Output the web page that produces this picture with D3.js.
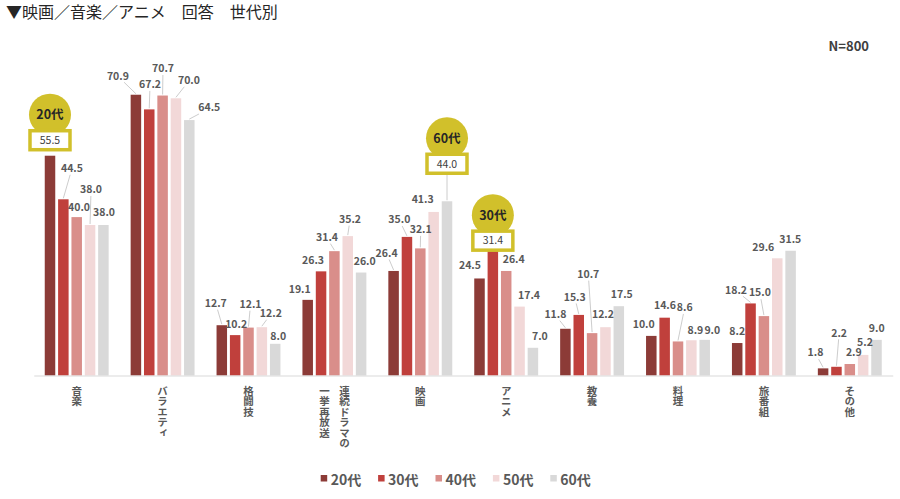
<!DOCTYPE html>
<html>
<head>
<meta charset="utf-8">
<script src="https://cdn.jsdelivr.net/npm/d3@7"></script>
<style>
  body { margin: 0; background: #fff; }
  text { font-family: "Noto Sans CJK JP", "Noto Sans", sans-serif; }
</style>
</head>
<body>
<svg id="chart" width="900" height="499"></svg>
<script>

// data
const categories = ['音楽', 'バラエティ', '格闘技', '連続ドラマの一挙再放送', '映画', 'アニメ', '教養', '料理', '旅番組', 'その他']
const categoryColumns = [['音楽'], ['バラエティ'], ['格闘技'], ['連続ドラマの', '一挙再放送'], ['映画'], ['アニメ'], ['教養'], ['料理'], ['旅番組'], ['その他']]
const generations = ['20代', '30代', '40代', '50代', '60代']
const values20 = [55.5, 70.9, 12.7, 19.1, 26.4, 24.5, 11.8, 10.0, 8.2, 1.8]
const values30 = [44.5, 67.2, 10.2, 26.3, 35.0, 31.4, 15.3, 14.6, 18.2, 2.2]
const values40 = [40.0, 70.7, 12.1, 31.4, 32.1, 26.4, 10.7, 8.6, 15.0, 2.9]
const values50 = [38.0, 70.0, 12.2, 35.2, 41.3, 17.4, 12.2, 8.9, 29.6, 5.2]
const values60 = [38.0, 64.5, 8.0, 26.0, 44.0, 7.0, 17.5, 9.0, 31.5, 9.0]
const seriesValues = [values20, values30, values40, values50, values60]
const colors = ['#8C3B37', '#C0403C', '#D98E8A', '#F2D8D8', '#D9D9D9']

// highlighted bars (generation, category)
const highlights = [['20代', '音楽'], ['60代', '映画'], ['30代', 'アニメ']]

// label nudges [dx, dy, leader] per generation, per category (null = highlighted)
const nudge20 = [null, [-18, -19, 1], [-6, -22, 1], [-8, -11, 0], [-7, -18, 1], [-9.5, -13.5, 0], [-10, -14.6, 1], [-7.6, -11.7, 0], [0, -11.7, 0], [-7.6, -15.7, 1]]
const nudge30 = [[8.6, -31, 1], [0.8, -25, 1], [1, -11, 0], [-8, -11, 0], [-7.6, -17.4, 1], null, [-4, -18, 1], [0.3, -12.7, 0], [-14.5, -13.7, 1], [2.7, -34, 1]]
const nudge40 = [[2.3, -10, 0], [0.4, -27, 1], [2, -23.4, 1], [-7.4, -14, 1], [0.4, -19, 1], [7.5, -11.5, 0], [-3.8, -59, 1], [6.7, -34, 1], [-4, -23.4, 1], [4, -11.3, 0]]
const nudge50 = [[1, -35.5, 1], [13, -18, 1], [9, -14, 1], [2.3, -17, 1], [-11, -13, 0], [9.5, -11.6, 0], [-2.5, -13, 0], [4, -10, 0], [-14, -11.5, 0], [1.8, -12.2, 0]]
const nudge60 = [[0.6, -12.5, 0], [20, -12.6, 1], [3, -8, 0], [3.6, -11, 0], null, [7, -11.6, 0], [3, -12, 0], [7.6, -9.7, 0], [-0.3, -11.5, 0], [0.2, -11.2, 0]]
const nudges = [nudge20, nudge30, nudge40, nudge50, nudge60]
const calloutGap = [6, 28, 1]

const svg = d3.select('#chart')
const gold = '#D1C02B'
const labelColor = '#595959'

const x0 = d3.scaleBand()
	.domain(categories)
	.range([33.75, 892.75])
	.paddingInner(0.256)
	.paddingOuter(0.128)

const x1 = d3.scaleBand()
	.domain(generations)
	.range([0, x0.bandwidth()])
	.paddingInner(0.213)

const y = d3.scaleLinear()
	.domain([0, 80])
	.range([375.5, 58.7])

const cx = (gi, ci) => x0(categories[ci]) + x1(generations[gi]) + x1.bandwidth() / 2

// title
svg.append('text')
	.attr('x', 6).attr('y', 18)
	.attr('font-size', 16).attr('fill', '#262626')
	.text('▼映画／音楽／アニメ　回答　世代別')

svg.append('text')
	.attr('x', 869).attr('y', 51)
	.attr('text-anchor', 'end')
	.attr('font-size', 13).attr('font-weight', 'bold').attr('fill', '#404040')
	.attr('font-family', 'Arial, "Liberation Sans", sans-serif')
	.text('N=800')

// bars
const groups = svg.append('g').selectAll('g')
	.data(generations)
	.enter().append('g')
	.attr('fill', (d, i) => colors[i])

groups.selectAll('rect')
	.data((g, gi) => categories.map((c, ci) => ({ gi, ci, v: seriesValues[gi][ci] })))
	.enter().append('rect')
	.attr('x', d => x0(categories[d.ci]) + x1(generations[d.gi]))
	.attr('y', d => y(d.v))
	.attr('width', x1.bandwidth())
	.attr('height', d => y(0) - y(d.v))

// x axis
const xAxis = svg.append('g')
	.attr('transform', `translate(0, ${y(0)})`)
	.call(d3.axisBottom(x0).tickSize(0).tickSizeOuter(0).tickFormat(''))
xAxis.select('.domain').attr('stroke', '#D9D9D9').attr('stroke-width', 1)

xAxis.selectAll('.tick').each(function(d, i) {
	const cols = categoryColumns[i]
	const tick = d3.select(this)
	cols.forEach((txt, k) => {
		const off = cols.length == 1 ? 0 : (k == 0 ? 10 : -10)
		tick.append('text')
			.attr('x', off).attr('y', 10)
			.attr('fill', labelColor)
			.attr('font-size', 10.5)
			.attr('font-weight', 'bold')
			.style('writing-mode', 'vertical-rl')
			.style('text-anchor', 'start')
			.text(txt)
	})
})

// value labels
const labels = svg.append('g')
seriesValues.forEach((vals, gi) => {
	vals.forEach((v, ci) => {
		const n = nudges[gi][ci]
		if (!n) return
		const bx = cx(gi, ci), by = y(v)
		const tx = bx + n[0], ty = by + n[1]
		if (n[2]) {
			const vx = bx - tx, vy = by - ty
			const t = Math.min(11.5 / Math.max(Math.abs(vx), 0.001), 6.5 / Math.max(Math.abs(vy), 0.001))
			labels.append('line')
				.attr('x1', tx + vx * t).attr('y1', ty + vy * t)
				.attr('x2', bx).attr('y2', by - 1)
				.attr('stroke', '#BFBFBF').attr('stroke-width', 0.8)
		}
		labels.append('text')
			.attr('x', tx).attr('y', ty)
			.attr('dy', '0.36em')
			.attr('text-anchor', 'middle')
			.attr('font-size', 10.5).attr('font-weight', 'bold')
			.attr('fill', labelColor)
			.text(v.toFixed(1))
	})
})

// callouts
highlights.forEach(([g, c], k) => {
	const gi = generations.indexOf(g), ci = categories.indexOf(c)
	const v = seriesValues[gi][ci]
	const bx = cx(gi, ci), by = y(v)
	const boxBottom = by - calloutGap[k]
	const boxTop = boxBottom - 19
	const co = svg.append('g')
	if (calloutGap[k] > 8) {
		co.append('line')
			.attr('x1', bx).attr('y1', boxBottom)
			.attr('x2', bx).attr('y2', by - 1)
			.attr('stroke', '#BFBFBF').attr('stroke-width', 0.8)
	}
	co.append('circle')
		.attr('cx', bx).attr('cy', boxTop - 16)
		.attr('r', 21)
		.attr('fill', gold)
	co.append('rect')
		.attr('x', bx - 20).attr('y', boxTop)
		.attr('width', 40).attr('height', 19)
		.attr('fill', '#fff')
		.attr('stroke', gold).attr('stroke-width', 3.5)
	co.append('text')
		.attr('x', bx).attr('y', boxTop - 16)
		.attr('dy', '0.36em')
		.attr('text-anchor', 'middle')
		.attr('font-size', 12.5).attr('font-weight', 'bold')
		.attr('fill', '#262626')
		.text(g)
	co.append('text')
		.attr('x', bx).attr('y', boxTop + 9.5)
		.attr('dy', '0.36em')
		.attr('text-anchor', 'middle')
		.attr('font-size', 10.5)
		.attr('fill', '#404040')
		.text(v.toFixed(1))
})

// legend
const legend = svg.append('g').attr('transform', 'translate(320.7, 0)')
const lx = d3.scalePoint().domain(generations).range([0, 229.6])
const items = legend.selectAll('g')
	.data(generations)
	.enter().append('g')
	.attr('transform', d => `translate(${lx(d)}, 0)`)
items.append('rect')
	.attr('y', 475).attr('width', 6.5).attr('height', 6.5)
	.attr('fill', (d, i) => colors[i])
items.append('text')
	.attr('x', 10).attr('y', 485)
	.attr('font-size', 14).attr('font-weight', 'bold')
	.attr('fill', labelColor)
	.text(d => d)

</script>
</body>
</html>
